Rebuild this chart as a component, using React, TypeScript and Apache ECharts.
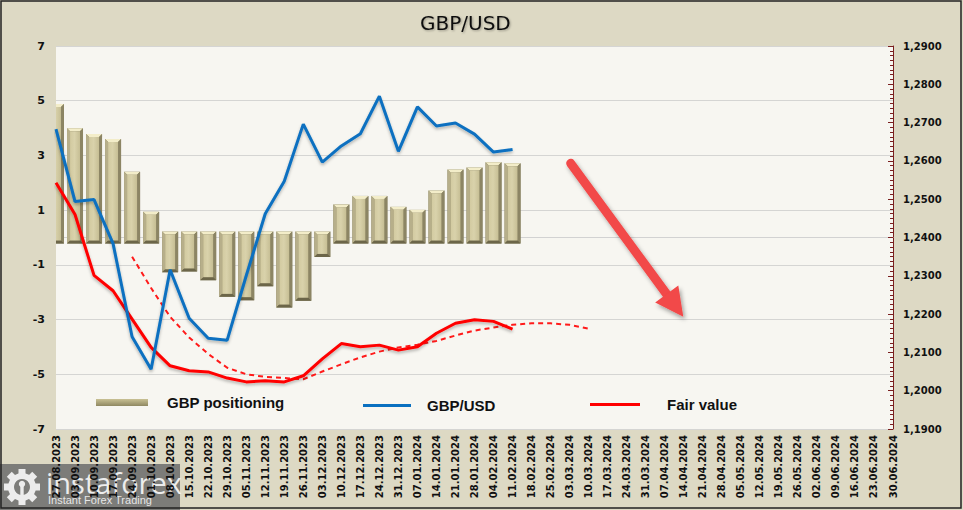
import React, { useEffect, useRef } from 'react';
import * as echarts from 'echarts';

const weeks = [
  '27.08.2023', '03.09.2023', '10.09.2023', '17.09.2023', '24.09.2023', '01.10.2023', '08.10.2023',
  '15.10.2023', '22.10.2023', '29.10.2023', '05.11.2023', '12.11.2023', '19.11.2023', '26.11.2023',
  '03.12.2023', '10.12.2023', '17.12.2023', '24.12.2023', '31.12.2023', '07.01.2024', '14.01.2024',
  '21.01.2024', '28.01.2024', '04.02.2024', '11.02.2024', '18.02.2024', '25.02.2024', '03.03.2024',
  '10.03.2024', '17.03.2024', '24.03.2024', '31.03.2024', '07.04.2024', '14.04.2024', '21.04.2024',
  '28.04.2024', '05.05.2024', '12.05.2024', '19.05.2024', '26.05.2024', '02.06.2024', '09.06.2024',
  '16.06.2024', '23.06.2024', '30.06.2024',
];

const positioning = [
  4.88, 3.99, 3.78, 3.6, 2.4, 0.94, -1.27, -1.24, -1.56, -2.17, -2.29, -1.78, -2.56, -2.31, -0.71,
  1.21, 1.52, 1.52, 1.12, 1.01, 1.72, 2.49, 2.56, 2.75, 2.71,
];

const gbpusd = [
  1.2683, 1.2494, 1.2499, 1.2384, 1.2141, 1.2056, 1.2316, 1.2189, 1.2137, 1.2132, 1.23, 1.2462,
  1.2547, 1.2696, 1.2597, 1.2639, 1.2671, 1.2769, 1.2625, 1.2741, 1.2691, 1.2699, 1.267, 1.2623, 1.263,
];

const fairValue = [
  1.2543, 1.246, 1.2301, 1.2261, 1.2187, 1.2113, 1.2065, 1.2052, 1.2049, 1.2033, 1.2023, 1.2026,
  1.2023, 1.2039, 1.2083, 1.2123, 1.2115, 1.2119, 1.2106, 1.2115, 1.215, 1.2176, 1.2185, 1.2181, 1.2161,
];

const fairTrend = [
  null, null, null, null, 1.235, 1.2268, 1.2193, 1.2139, 1.2096, 1.206, 1.2043, 1.2036, 1.2033,
  1.203, 1.205, 1.2069, 1.2087, 1.2102, 1.2113, 1.212, 1.213, 1.2144, 1.2157, 1.2165, 1.2172, 1.2176,
  1.2176, 1.2172, 1.2162,
];

const leftTicks = { min: -7, max: 7, interval: 2 };
const rightTicks = { min: 1.19, max: 1.29, interval: 0.01 };

const FONT = 'DejaVu Sans';

function renderBar(params: any, api: any) {
  const i = api.value(0);
  const v = api.value(1);
  const p = api.coord([i, v]);
  const z = api.coord([i, 0]);
  const w = api.size([1, 0])[0] * 0.84;
  const x0 = p[0] - w / 2;
  let top: number;
  let bot: number;
  if (v >= 0) {
    top = p[1];
    bot = z[1] + 6;
  } else {
    top = z[1] - 6;
    bot = p[1];
  }
  const b = 3;
  const h = bot - top;
  return {
    type: 'group',
    children: [
      { type: 'rect', shape: { x: x0, y: top, width: w, height: h }, style: { fill: '#7c7656' } },
      {
        type: 'polygon',
        shape: { points: [[x0, top], [x0 + w, top], [x0 + w - b, top + b], [x0 + b, top + b]] },
        style: { fill: '#f3edc9' },
      },
      {
        type: 'polygon',
        shape: { points: [[x0, top], [x0 + b, top + b], [x0 + b, bot - b], [x0, bot]] },
        style: { fill: '#b7af8a' },
      },
      {
        type: 'polygon',
        shape: { points: [[x0 + w, top], [x0 + w, bot], [x0 + w - b, bot - b], [x0 + w - b, top + b]] },
        style: { fill: '#8c8564' },
      },
      {
        type: 'polygon',
        shape: { points: [[x0, bot], [x0 + w, bot], [x0 + w - b, bot - b], [x0 + b, bot - b]] },
        style: { fill: '#6c6649' },
      },
      {
        type: 'rect',
        shape: { x: x0 + b, y: top + b, width: w - 2 * b, height: Math.max(0, h - 2 * b) },
        style: {
          fill: new echarts.graphic.LinearGradient(0, 0, 1, 0, [
            { offset: 0, color: '#d2caa0' },
            { offset: 0.45, color: '#d9d2ab' },
            { offset: 1, color: '#c6be94' },
          ]),
        },
      },
    ],
  };
}

export default function App() {
  const ref = useRef<HTMLDivElement>(null);

  useEffect(() => {
    if (!ref.current) return;
    const chart = echarts.init(ref.current, null, { renderer: 'svg' });

    const lineShadow = { shadowColor: 'rgba(0,0,0,0.28)', shadowBlur: 3, shadowOffsetY: 2 };

    const teeth = [0, 1, 2, 3, 4, 5, 6, 7].map((k) => ({
      type: 'rect',
      x: 22,
      y: 487,
      rotation: (k * Math.PI) / 4,
      shape: { x: -3.5, y: -18, width: 7, height: 6 },
      style: { fill: '#ececec' },
    }));

    const option: any = {
      animation: false,
      backgroundColor: '#ddd9c4',
      title: {
        text: 'GBP/USD',
        left: 420,
        top: 13,
        padding: 0,
        textStyle: {
          fontFamily: FONT,
          fontSize: 20,
          fontWeight: 'normal',
          color: '#111',
          textShadowColor: 'rgba(0,0,0,0.3)',
          textShadowBlur: 2,
          textShadowOffsetX: 1,
          textShadowOffsetY: 1,
        },
      },
      grid: {
        left: 56,
        right: 70,
        top: 46,
        bottom: 81,
        show: true,
        backgroundColor: '#f7f6f1',
        borderWidth: 0,
      },
      legend: [
        {
          data: [
            {
              name: 'GBP positioning',
              icon: 'rect',
              itemStyle: {
                color: new echarts.graphic.LinearGradient(0, 0, 0, 1, [
                  { offset: 0, color: '#c9c194' },
                  { offset: 1, color: '#8f8862' },
                ]),
              },
            },
          ],
          left: 96,
          top: 395,
          padding: 0,
          itemWidth: 52,
          itemHeight: 7,
          selectedMode: false,
          textStyle: { fontFamily: 'Liberation Sans', fontSize: 15, fontWeight: 'bold', color: '#111', padding: [0, 0, 0, 14] },
        },
        {
          data: ['GBP/USD'],
          icon: 'rect',
          left: 363,
          top: 398,
          padding: 0,
          itemWidth: 48,
          itemHeight: 3,
          selectedMode: false,
          textStyle: { fontFamily: 'Liberation Sans', fontSize: 15, fontWeight: 'bold', color: '#111', padding: [0, 0, 0, 11] },
        },
        {
          data: ['Fair value'],
          icon: 'rect',
          left: 590,
          top: 397,
          padding: 0,
          itemWidth: 50,
          itemHeight: 3,
          selectedMode: false,
          textStyle: { fontFamily: 'Liberation Sans', fontSize: 15, fontWeight: 'bold', color: '#111', padding: [0, 0, 0, 22] },
        },
      ],
      xAxis: {
        type: 'category',
        data: weeks,
        boundaryGap: false,
        axisLine: { show: true, lineStyle: { color: '#d2d2d2' } },
        axisTick: { show: false },
        axisLabel: {
          interval: 0,
          rotate: 90,
          margin: 6,
          fontFamily: FONT,
          fontSize: 10,
          fontWeight: 'bold',
          color: '#111',
        },
        splitLine: { show: false },
      },
      yAxis: [
        {
          type: 'value',
          position: 'left',
          min: leftTicks.min,
          max: leftTicks.max,
          interval: leftTicks.interval,
          axisLine: { show: false },
          axisTick: { show: false },
          axisLabel: { margin: 11, fontFamily: FONT, fontSize: 11, fontWeight: 'bold', color: '#111' },
          splitLine: { show: true, lineStyle: { color: '#d5d5d3', width: 1 } },
        },
        {
          type: 'value',
          position: 'right',
          min: rightTicks.min,
          max: rightTicks.max,
          interval: rightTicks.interval,
          axisLine: { show: true, lineStyle: { color: '#7a1f1f', width: 1 } },
          axisTick: { show: true, inside: true, length: 5, lineStyle: { color: '#7a1f1f' } },
          minorTick: { show: true, splitNumber: 8, length: 3, lineStyle: { color: '#7a1f1f' } },
          axisLabel: {
            margin: 10,
            fontFamily: FONT,
            fontSize: 10,
            fontWeight: 'bold',
            color: '#111',
            formatter: (v: number) => v.toFixed(4).replace('.', ','),
          },
          splitLine: { show: false },
        },
      ],
      series: [
        {
          name: 'GBP positioning',
          type: 'custom',
          yAxisIndex: 0,
          clip: true,
          renderItem: renderBar,
          encode: { x: 0, y: 1 },
          itemStyle: { color: '#b5ad84' },
          data: positioning.map((v, i) => [i, v]),
          z: 2,
        },
        {
          name: 'trend',
          type: 'line',
          yAxisIndex: 1,
          data: fairTrend,
          symbol: 'none',
          smooth: false,
          lineStyle: { color: '#ff1a1a', width: 2, type: [5, 4] },
          z: 3,
        },
        {
          name: 'Fair value',
          type: 'line',
          yAxisIndex: 1,
          data: fairValue,
          symbol: 'none',
          itemStyle: { color: '#ff0000' },
          lineStyle: { color: '#ff0000', width: 3, ...lineShadow },
          z: 4,
        },
        {
          name: 'GBP/USD',
          type: 'line',
          yAxisIndex: 1,
          data: gbpusd,
          symbol: 'none',
          itemStyle: { color: '#0a70c0' },
          lineStyle: { color: '#0a70c0', width: 3, ...lineShadow },
          z: 5,
        },
      ],
      graphic: [
        {
          type: 'line',
          silent: true,
          z: 50,
          shape: { x1: 570.7, y1: 163.3, x2: 668, y2: 296 },
          style: {
            stroke: '#f24848',
            lineWidth: 9,
            lineCap: 'round',
            shadowColor: 'rgba(0,0,0,0.35)',
            shadowBlur: 4,
            shadowOffsetX: 2,
            shadowOffsetY: 3,
          },
        },
        {
          type: 'polygon',
          silent: true,
          z: 51,
          shape: { points: [[683.3, 316.7], [655.2, 302.6], [678.3, 285.4]] },
          style: {
            fill: '#f24848',
            shadowColor: 'rgba(0,0,0,0.35)',
            shadowBlur: 4,
            shadowOffsetX: 2,
            shadowOffsetY: 3,
          },
        },
        {
          type: 'group',
          silent: true,
          z: 60,
          children: [
            { type: 'rect', shape: { x: 0, y: 464, width: 180, height: 46 }, style: { fill: 'rgba(110,110,110,0.88)' } },
            ...teeth,
            { type: 'ring', shape: { cx: 22, cy: 487, r: 14, r0: 8 }, style: { fill: '#ececec' } },
            { type: 'circle', shape: { cx: 22, cy: 484, r: 3.2 }, style: { fill: '#ececec' } },
            { type: 'rect', shape: { x: 20.3, y: 486, width: 3.4, height: 9 }, style: { fill: '#ececec' } },
            {
              type: 'text',
              x: 46,
              y: 482,
              style: {
                text: 'instaforex',
                fontFamily: 'Open Sans',
                fontSize: 29,
                fill: '#ededed',
                textAlign: 'left',
                textVerticalAlign: 'middle',
              },
            },
            {
              type: 'text',
              x: 48,
              y: 500,
              style: {
                text: 'Instant Forex Trading',
                fontFamily: 'Liberation Sans',
                fontSize: 11,
                fill: '#e6e6e6',
                textAlign: 'left',
                textVerticalAlign: 'middle',
              },
            },
          ],
        },
        {
          type: 'rect',
          silent: true,
          z: 100,
          shape: { x: 1, y: 1, width: 960, height: 507 },
          style: { fill: 'none', stroke: '#222', lineWidth: 1.5 },
        },
      ],
    };

    chart.setOption(option);
    return () => chart.dispose();
  }, []);

  return <div ref={ref} style={{ position: 'absolute', left: 0, top: 0, width: 963, height: 510 }} />;
}
